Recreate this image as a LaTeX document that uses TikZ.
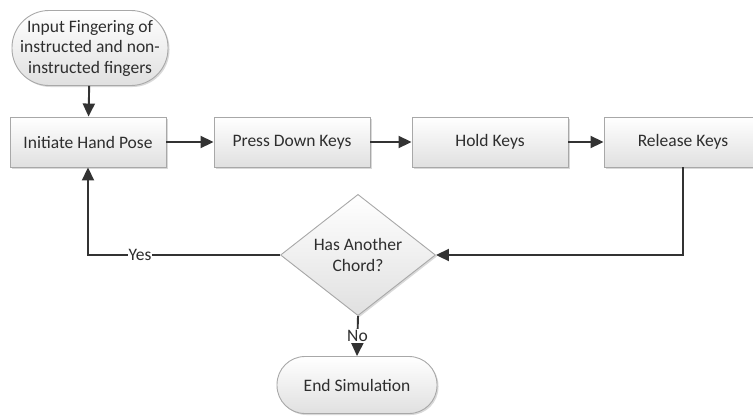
\documentclass[tikz,border=0pt]{standalone}
\usepackage{fontspec}
\setmainfont{Carlito}
\usetikzlibrary{shapes.geometric,shadows,arrows.meta}
\definecolor{txt}{HTML}{2E2E2E}
\definecolor{ln}{HTML}{333333}
\definecolor{bord}{HTML}{A8A8A8}
\definecolor{fillb}{HTML}{E0E0E0}
\begin{document}
\begin{tikzpicture}[x=1pt,y=-1pt,
  base/.style={draw=bord, line width=0.9pt, top color=white, bottom color=fillb,
    inner sep=0pt, align=center, text=txt, font=\fontsize{17.5}{20.5}\selectfont,
    drop shadow={shadow xshift=1.5pt, shadow yshift=-1.5pt, opacity=0.25, fill=black!60}},
  box/.style={base, minimum width=156pt, minimum height=50pt},
  term/.style={base, rounded corners=#1},
  dia/.style={base, diamond, minimum width=155pt, minimum height=94pt},
  arr/.style={draw=ln, line width=1.9pt, -{Triangle[length=13pt,width=12pt]}},
  lbl/.style={fill=white, inner sep=1pt, text=txt, font=\fontsize{17.5}{20.5}\selectfont}]
\useasboundingbox (0,0) rectangle (753,416);
\node[term=37pt, minimum width=156pt, minimum height=75pt] (in) at (90,48)
  {Input Fingering of\\instructed and non-\\instructed fingers};
\node[box] (init) at (88,142) {Initiate Hand Pose};
\node[box] (press) at (292,142) {Press Down Keys};
\node[box] (hold) at (490,142) {Hold Keys};
\node[box, minimum width=158pt] (rel) at (683,142) {Release Keys};
\node[dia] (dec) at (358,255) {Has Another\\Chord?};
\node[term=28pt, minimum width=160pt, minimum height=57pt] (end) at (357,385) {End Simulation};
\draw[arr] (in) -- (init);
\draw[arr] (init) -- (press);
\draw[arr] (press) -- (hold);
\draw[arr] (hold) -- (rel);
\draw[arr] (rel.south) |- (dec.east);
\draw[arr] (dec.west) -| (init.south);
\node[lbl] (yes) at (140,255) {Yes};
\draw[arr] (dec.south) -- node[lbl] (no) {No} (end.north);
\end{tikzpicture}
\end{document}
